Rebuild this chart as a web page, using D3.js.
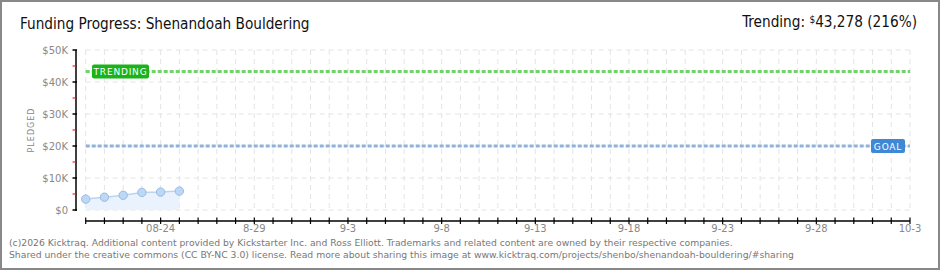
<!DOCTYPE html>
<html>
<head>
<meta charset="UTF-8">
<title>Funding Progress</title>
<style>
    body { margin: 0; padding: 0; background: #fff; }
    svg { display: block; }
    .title { font-family: "DejaVu Sans Condensed", "DejaVu Sans", sans-serif; font-size: 15.2px; fill: #111; }
    .small { font-family: "DejaVu Sans", sans-serif; font-size: 10px; fill: #888; }
    .foot { font-family: "DejaVu Sans", sans-serif; font-size: 9.25px; fill: #777; }
    .grid line { stroke: #e4e4e4; stroke-dasharray: 5,4; }
</style>
<script src="https://d3js.org/d3.v7.min.js"></script>
</head>
<body>
<svg id="chart" width="940" height="270"></svg>
<script>
    // data
    var dates = ["2025-08-20", "2025-08-21", "2025-08-22", "2025-08-23", "2025-08-24", "2025-08-25"];
    var pledged = [3400, 4000, 4600, 5500, 5600, 5900];
    var goal = 20000;
    var trending = 43278;
    var yTicks = [0, 10000, 20000, 30000, 40000, 50000];
    var yTickLabels = ["$0", "$10K", "$20K", "$30K", "$40K", "$50K"];
    var xTickLabels = ["08-24", "8-29", "9-3", "9-8", "9-13", "9-18", "9-23", "9-28", "10-3"];

    var parse = d3.utcParse("%Y-%m-%d");
    var start = parse("2025-08-20"), end = parse("2025-10-03");

    var svg = d3.select("#chart");

    // frame
    svg.append("rect").attr("x", 1).attr("y", 1).attr("width", 938).attr("height", 268)
        .attr("fill", "none").attr("stroke", "#888").attr("stroke-width", 2);

    var x = d3.scaleUtc().domain([start, end]).range([85.7, 910]);
    var y = d3.scaleLinear().domain([0, 50000]).range([210, 50]);

    var days = d3.utcDay.range(start, d3.utcDay.offset(end, 1));

    // grid
    var grid = svg.append("g").attr("class", "grid");
    grid.selectAll(".v").data(days).enter().append("line")
        .attr("x1", d => x(d)).attr("x2", d => x(d))
        .attr("y1", y(50000)).attr("y2", y(0));
    grid.selectAll(".h").data(yTicks).enter().append("line")
        .attr("x1", x(start)).attr("x2", x(end))
        .attr("y1", d => y(d)).attr("y2", d => y(d));

    // area + line + points
    var pts = dates.map((d, i) => ({ date: parse(d), value: pledged[i] }));
    svg.append("path").datum(pts)
        .attr("fill", "#eaf3fd")
        .attr("d", d3.area().x(d => x(d.date)).y0(y(0)).y1(d => y(d.value)));
    svg.append("path").datum(pts)
        .attr("fill", "none").attr("stroke", "#b9d5f2").attr("stroke-width", 1.5)
        .attr("d", d3.line().x(d => x(d.date)).y(d => y(d.value)));
    svg.selectAll(".pt").data(pts).enter().append("circle")
        .attr("cx", d => x(d.date)).attr("cy", d => y(d.value)).attr("r", 4.2)
        .attr("fill", "#bcd8f6").attr("stroke", "#98bbe0").attr("stroke-width", 1);

    // trending and goal lines
    function refLine(v, color, boxColor, label, bx, bw) {
        svg.append("line")
            .attr("x1", x(start)).attr("x2", x(end))
            .attr("y1", y(v)).attr("y2", y(v))
            .attr("stroke", color).attr("stroke-width", 3).attr("stroke-dasharray", "4,2");
        svg.append("rect").attr("x", bx).attr("y", y(v) - 7).attr("width", bw).attr("height", 14)
            .attr("rx", 2).attr("fill", boxColor);
        svg.append("text").attr("x", bx + bw / 2).attr("y", y(v) + 3.5)
            .attr("text-anchor", "middle")
            .style("font-family", "DejaVu Sans, sans-serif").style("font-size", "9px")
            .style("letter-spacing", "0.8px")
            .attr("fill", "#fff").text(label);
    }
    refLine(trending, "#72d36a", "#1bb31b", "TRENDING", 92, 57);
    refLine(goal, "#90b2d9", "#3f88d6", "GOAL", 871, 34);

    // y axis
    svg.append("line").attr("x1", 76).attr("x2", 76).attr("y1", y(50000)).attr("y2", y(0) + 1)
        .attr("stroke", "#000").attr("stroke-width", 1.5);
    svg.selectAll(".yt").data(yTicks).enter().append("line")
        .attr("x1", 72.5).attr("x2", 77).attr("y1", d => y(d)).attr("y2", d => y(d))
        .attr("stroke", "#000").attr("stroke-width", 1.5);
    svg.selectAll(".ym").data(yTicks.slice(0, -1)).enter().append("line")
        .attr("x1", 72.5).attr("x2", 76).attr("y1", d => y(d + 5000)).attr("y2", d => y(d + 5000))
        .attr("stroke", "#e00").attr("stroke-width", 1);
    svg.selectAll(".yl").data(yTicks).enter().append("text")
        .attr("class", "small").attr("x", 68).attr("y", d => y(d) + 3.5)
        .attr("text-anchor", "end").text((d, i) => yTickLabels[i]);
    svg.append("text").attr("class", "small")
        .attr("transform", "translate(34,130) rotate(-90)")
        .attr("text-anchor", "middle").style("font-size", "8px").style("letter-spacing", "1px")
        .text("PLEDGED");

    // x axis
    svg.append("line").attr("x1", x(start)).attr("x2", x(end)).attr("y1", 221).attr("y2", 221)
        .attr("stroke", "#000").attr("stroke-width", 1.5);
    svg.selectAll(".xt").data(days).enter().append("line")
        .attr("x1", d => x(d)).attr("x2", d => x(d)).attr("y1", 217.5).attr("y2", 224)
        .attr("stroke", "#000").attr("stroke-width", 1.2);
    var labelDays = d3.utcDay.every(1).range(parse("2025-08-24"), d3.utcDay.offset(end, 1))
        .filter((d, i) => i % 5 === 0);
    svg.selectAll(".xl").data(labelDays).enter().append("text")
        .attr("class", "small").attr("x", d => x(d)).attr("y", 232)
        .attr("text-anchor", "middle").text((d, i) => xTickLabels[i]);

    // titles
    svg.append("text").attr("class", "title").attr("x", 20).attr("y", 29)
        .text("Funding Progress: Shenandoah Bouldering");
    var tr = svg.append("text").attr("class", "title").attr("x", 917).attr("y", 27)
        .attr("text-anchor", "end");
    tr.append("tspan").text("Trending:  ");
    tr.append("tspan").style("font-size", "10px").attr("dy", -4).text("$");
    tr.append("tspan").attr("dy", 4).text("43,278 (216%)");

    // footer
    svg.append("text").attr("class", "foot").attr("x", 9).attr("y", 246)
        .text("(c)2026 Kicktraq. Additional content provided by Kickstarter Inc. and Ross Elliott. Trademarks and related content are owned by their respective companies.");
    svg.append("text").attr("class", "foot").attr("x", 9).attr("y", 258)
        .text("Shared under the creative commons (CC BY-NC 3.0) license. Read more about sharing this image at www.kicktraq.com/projects/shenbo/shenandoah-bouldering/#sharing");
</script>
</body>
</html>
